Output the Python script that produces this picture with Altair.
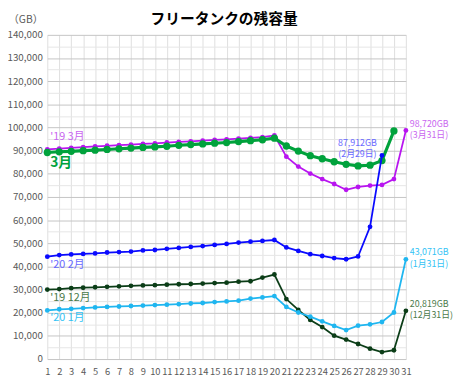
import altair as alt
import pandas as pd

FONT = "Noto Sans CJK JP"

title_text = "フリータンクの残容量"
days = list(range(1, 32))

# remaining capacity (GB)
dec19 = [30000, 30200, 30600, 30800, 31000, 31200, 31400, 31600, 31800, 31900,
         32100, 32300, 32400, 32600, 32800, 33000, 33400, 33600, 35200, 36500,
         25900, 21200, 16900, 13800, 10100, 8400, 6500, 4500, 3000, 3800, 20819]
jan20 = [21000, 21500, 21700, 22000, 22300, 22500, 22700, 22900, 23100, 23300,
         23500, 23700, 24000, 24200, 24600, 24900, 25200, 26100, 26600, 27200,
         22500, 20100, 18300, 16300, 14300, 12500, 14400, 15000, 16000, 20100, 43071]
mar19 = [90500, 90900, 91200, 91500, 91800, 92100, 92400, 92600, 92900, 93100,
         93500, 93800, 94000, 94300, 94600, 94900, 95200, 95500, 95800, 96600,
         87400, 83100, 80100, 77700, 75600, 73100, 74300, 74900, 75200, 77700, 98720]
mar20 = [89200, 89500, 89700, 90000, 90200, 90500, 90800, 91100, 91400, 91600,
         91900, 92300, 92600, 92900, 93200, 93500, 93900, 94300, 94700, 95400,
         92000, 89800, 87800, 86500, 85200, 84100, 83400, 83700, 85700, 98500]
feb20 = [44200, 44900, 45200, 45400, 45600, 46000, 46200, 46400, 46900, 47100,
         47600, 48000, 48400, 48800, 49300, 49700, 50300, 50700, 51000, 51400,
         48200, 46700, 45300, 44500, 43600, 43100, 44300, 57100, 87912]

series_names = ["'19 12月", "'20 1月", "'19 3月", "3月", "'20 2月"]
series_values = [dec19, jan20, mar19, mar20, feb20]

end_line1 = ["20,819GB", "43,071GB", "98,720GB", None, "87,912GB"]
end_line2 = ["(12月31日)", "(1月31日)", "(3月31日)", None, "(2月29日)"]

# styles
style = {
    "'19 12月": dict(line="#0b3d17", text="#4a7a4a", width=1.8, size=24, lsize=11, ldy=9, bold="normal"),
    "'20 1月": dict(line="#1fb6f0", text="#33c3f5", width=1.8, size=24, lsize=11, ldy=8, bold="normal"),
    "'19 3月": dict(line="#b814f0", text="#c966f0", width=1.8, size=24, lsize=11, ldy=-13, bold="normal"),
    "3月": dict(line="#00a23c", text="#00a23c", width=3.2, size=55, lsize=14, ldy=11, bold="bold"),
    "'20 2月": dict(line="#0a0aff", text="#6868ff", width=1.8, size=24, lsize=11, ldy=9, bold="normal"),
}

grid_vals = list(range(0, 140001, 5000))

x_enc = alt.X(
    "day:Q",
    scale=alt.Scale(domain=[1, 31], nice=False, zero=False),
    axis=alt.Axis(values=days, grid=True, gridColor="#dedede", ticks=False, domain=False,
                  labelFontSize=9.5, labelColor="#595959", labelPadding=8, title=None,
                  labelFlush=False, labelFont=FONT),
)
y_enc = alt.Y(
    "value:Q",
    scale=alt.Scale(domain=[0, 140000], nice=False),
    axis=alt.Axis(values=grid_vals, ticks=False, domain=False,
                  labelExpr="datum.value % 10000 === 0 ? format(datum.value, ',') : ''",
                  gridColor={"condition": {"test": "datum.value % 10000 === 0", "value": "#c4c4c4"},
                             "value": "#e6e6e6"},
                  labelFontSize=10, labelColor="#595959", labelPadding=5, labelFont=FONT,
                  title="（GB）", titleAngle=0, titleX=-40, titleY=-16, titleAlign="left",
                  titleBaseline="middle", titleFontWeight="normal", titleFontSize=10.5,
                  titleColor="#595959", titleFont=FONT),
)

layers = []
for name, vals in zip(series_names, series_values):
    st = style[name]
    df = pd.DataFrame({"day": days[:len(vals)], "value": vals})
    layers.append(
        alt.Chart(df).mark_line(color=st["line"], strokeWidth=st["width"],
                                point=alt.OverlayMarkDef(color=st["line"], size=st["size"], filled=True, opacity=1))
        .encode(x=x_enc, y=y_enc)
    )

# series labels at the start of each line
for name, vals in zip(series_names, series_values):
    st = style[name]
    df = pd.DataFrame({"day": [days[0]], "value": [vals[0]], "t": [name]})
    layers.append(
        alt.Chart(df).mark_text(align="left", baseline="middle", dx=3, dy=st["ldy"],
                                fontSize=st["lsize"], fontWeight=st["bold"], color=st["text"], font=FONT)
        .encode(x=x_enc, y=y_enc, text="t:N")
    )

# end-point annotations
for name, vals, l1, l2 in zip(series_names, series_values, end_line1, end_line2):
    if l1 is None:
        continue
    st = style[name]
    df = pd.DataFrame({"day": [days[len(vals) - 1]], "value": [vals[-1]], "a": [l1], "b": [l2]})
    if name == "'20 2月":
        kw = dict(align="center", dx=-25)
        dys = (-13, -1.5)
    else:
        kw = dict(align="left", dx=4)
        dys = (-7, 4.5)
    for col, dy in zip(["a", "b"], dys):
        layers.append(
            alt.Chart(df).mark_text(baseline="middle", dy=dy, fontSize=9, color=st["text"], font=FONT, **kw)
            .encode(x=x_enc, y=y_enc, text=f"{col}:N")
        )

# chart title as a text mark placed above the plot area
title_df = pd.DataFrame({"t": [title_text]})
layers.append(
    alt.Chart(title_df).mark_text(align="center", baseline="middle", fontSize=15, fontWeight="bold",
                                  color="#000000", font=FONT, clip=False)
    .encode(x=alt.value(180), y=alt.value(-16), text="t:N")
)

chart = (
    alt.layer(*layers)
    .properties(
        width=365, height=330,
        autosize=alt.AutoSizeParams(type="none"),
        padding={"left": 40, "top": 24, "right": 50, "bottom": 18},
        background="white",
    )
    .configure_view(stroke=None)
)

chart.save("out.html", embed_options={"renderer": "svg", "actions": False})
